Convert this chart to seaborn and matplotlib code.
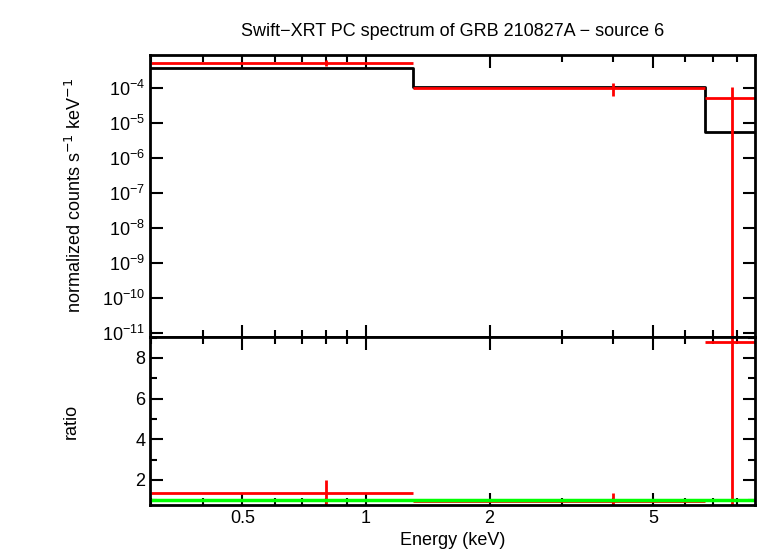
import matplotlib
matplotlib.use("Agg")
import matplotlib.pyplot as plt
import seaborn as sns
import numpy as np
import pandas as pd

plt.rcParams["font.family"] = "Liberation Sans"

bin_lo = [0.3, 1.3, 6.7]
bin_hi = [1.3, 6.7, 8.9]
e_center = [0.8, 4.0, 7.8]
data = [5.2e-4, 1.0e-4, 5.2e-5]
data_lo = [4.3e-4, 0.6e-4, 1e-12]
data_hi = [6.3e-4, 1.4e-4, 1.1e-4]
model = [3.8e-4, 1.1e-4, 5.5e-6]
ratio = [1.37, 0.95, 8.8]
ratio_lo = [0.8, 0.7, 0.5]
ratio_hi = [2.0, 1.35, 12.0]

df = pd.DataFrame(dict(lo=bin_lo, hi=bin_hi, c=e_center, d=data, m=model, r=ratio))

fig = plt.figure(figsize=(7.58, 5.56), dpi=100)
ax1 = fig.add_axes([150/758, 1-337/556, 605/758, 282/556])
ax2 = fig.add_axes([150/758, 1-505/556, 605/758, 168/556], sharex=ax1)

mx = list(df.lo) + [df.hi.iloc[-1]]
my = list(df.m) + [df.m.iloc[-1]]
ax1.step(mx, my, where="post", color="black", lw=2)
for i in range(len(df)):
    ax1.hlines(df.d[i], df.lo[i], df.hi[i], color="red", lw=2)
    ax1.vlines(df.c[i], data_lo[i], data_hi[i], color="red", lw=2)
    ax2.hlines(df.r[i], df.lo[i], df.hi[i], color="red", lw=2)
    ax2.vlines(df.c[i], ratio_lo[i], ratio_hi[i], color="red", lw=2)
sns.lineplot(x=[0.3, 8.9], y=[1, 1], ax=ax2, color="#00ff00", lw=2.5)

ax1.set_xscale("log")
ax1.set_yscale("log")
ax1.set_xlim(0.298, 8.86)
ax1.set_ylim(10**-11.11, 8.8e-4)
ax1.set_yticks([10.0**k for k in range(-11, -3)])
ax1.yaxis.set_minor_locator(matplotlib.ticker.NullLocator())
ax2.set_ylim(0.77, 9.03)
ax2.set_yticks([2, 4, 6, 8])
ax2.set_xticks([0.5, 1, 2, 5])
ax2.set_xticklabels(["0.5", "1", "2", "5"])
ax2.xaxis.set_minor_formatter(matplotlib.ticker.NullFormatter())
plt.setp(ax1.get_xticklabels(), visible=False)
ax2.yaxis.set_minor_locator(matplotlib.ticker.MultipleLocator(1))

for ax in (ax1, ax2):
    for s in ax.spines.values():
        s.set_linewidth(2)
    ax.tick_params(which="both", direction="in", top=True, right=True, labelsize=13, width=1.5)
    ax.tick_params(which="major", length=9)
    ax.tick_params(which="minor", length=5)

ax1.set_ylabel("normalized counts s$^{-1}$ keV$^{-1}$", fontsize=13, labelpad=12)
ax2.set_ylabel("ratio", fontsize=13, labelpad=40)
ax2.set_xlabel("Energy (keV)", fontsize=13)
ax1.set_title("Swift\u2212XRT PC spectrum of GRB 210827A \u2212 source 6", fontsize=13, pad=14)

fig.savefig("out.png", dpi=100)
